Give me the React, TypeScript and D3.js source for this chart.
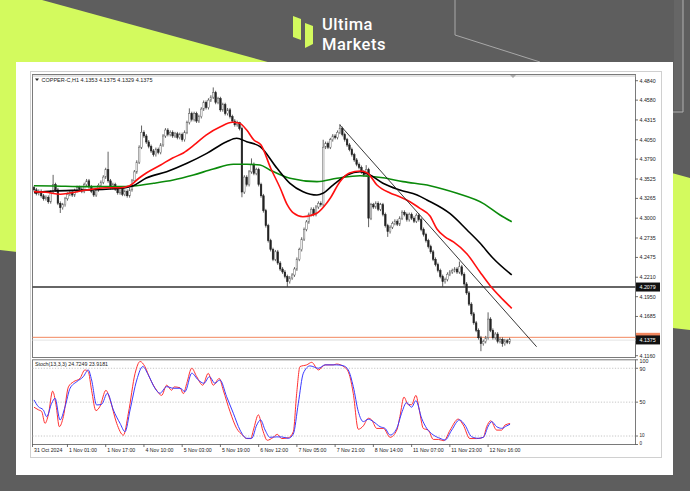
import React from 'react';
import * as d3 from 'd3';

const W = 690, H = 491;

// ---- price data (H1 bars) ----
const closes = [
  4.338,4.333,4.336,4.330,4.326,4.328,4.322,4.335,4.345,4.338,
  4.320,4.314,4.318,4.326,4.332,4.335,4.331,4.337,4.341,4.339,
  4.336,4.345,4.350,4.342,4.336,4.331,4.338,4.344,4.348,4.355,
  4.365,4.350,4.341,4.345,4.339,4.334,4.340,4.332,4.336,4.330,
  4.338,4.350,4.362,4.375,4.395,4.415,4.410,4.402,4.396,4.390,
  4.385,4.392,4.388,4.398,4.410,4.418,4.412,4.415,4.410,4.413,
  4.408,4.412,4.405,4.415,4.428,4.440,4.432,4.440,4.430,4.436,
  4.446,4.455,4.448,4.458,4.462,4.468,4.455,4.460,4.445,4.452,
  4.440,4.445,4.436,4.430,4.425,4.428,4.420,4.335,4.355,4.345,
  4.362,4.372,4.360,4.365,4.345,4.330,4.310,4.290,4.270,4.258,
  4.245,4.255,4.240,4.232,4.228,4.222,4.215,4.220,4.224,4.232,
  4.245,4.258,4.272,4.285,4.295,4.305,4.312,4.305,4.315,4.320,
  4.318,4.395,4.400,4.395,4.405,4.410,4.408,4.415,4.420,4.412,
  4.405,4.398,4.392,4.385,4.378,4.372,4.368,4.362,4.358,4.365,
  4.300,4.318,4.315,4.320,4.312,4.318,4.305,4.290,4.282,4.288,
  4.293,4.296,4.292,4.300,4.308,4.305,4.298,4.305,4.300,4.296,
  4.304,4.298,4.285,4.278,4.270,4.262,4.255,4.245,4.238,4.230,
  4.222,4.215,4.218,4.225,4.228,4.230,4.232,4.228,4.235,4.225,
  4.212,4.200,4.185,4.172,4.160,4.150,4.140,4.132,4.135,4.140,
  4.165,4.150,4.140,4.145,4.135,4.138,4.132,4.136,4.134,4.1375,
];
const firstOpen = 4.341;
const highSpikes: [number, number][] = [
  [8, 4.358], [31, 4.389], [45, 4.424], [65, 4.447], [75, 4.475], [86, 4.429],
  [91, 4.380], [121, 4.405], [128, 4.426], [139, 4.371], [178, 4.242], [190, 4.174],
];
const lowSpikes: [number, number][] = [
  [11, 4.307], [87, 4.328], [106, 4.208], [140, 4.288], [148, 4.275],
  [171, 4.208], [187, 4.122], [196, 4.128],
];

// ---- moving averages [bar, price] ----
const redMA: [number, number][] = [
  [0,4.3355],[5,4.3347],[11,4.3320],[15,4.3337],[22,4.3377],[30,4.3408],[36,4.3408],
  [40,4.3435],[44,4.3538],[47,4.3605],[53,4.3712],[58,4.3806],[62.5,4.3873],[67,4.3980],
  [72,4.4113],[78,4.4224],[83,4.4283],[86,4.4270],[89,4.4180],[92,4.4046],[95,4.3980],
  [99,4.3672],[103,4.3404],[106,4.3177],[108.5,4.3070],[112.5,4.3020],[118.5,4.3070],
  [122.5,4.3203],[124,4.3270],[128,4.3488],[132,4.3605],[136.5,4.3632],[139.5,4.3605],
  [143.5,4.3444],[149,4.3337],[153,4.3288],[157.3,4.3221],[161.5,4.3132],[165.7,4.3030],
  [168.6,4.2856],[172.1,4.2748],[175.5,4.2682],[181.2,4.2521],[186.6,4.2280],[190.8,4.2100],
  [195,4.1950],[199.9,4.1794],
];
const blackMA: [number, number][] = [
  [0,4.3341],[8,4.3364],[22,4.3377],[36,4.3400],[41.5,4.3435],[47,4.3538],[55.5,4.3622],
  [64,4.3735],[72.3,4.3868],[80.6,4.4024],[84.8,4.4069],[89,4.4024],[94.6,4.3957],
  [101.7,4.3668],[107.1,4.3467],[112.6,4.3355],[118.4,4.3310],[120.9,4.3333],[125.1,4.3444],
  [131,4.3578],[136.4,4.3622],[140.6,4.3578],[146,4.3467],[153.1,4.3377],[160.3,4.3310],
  [164.4,4.3244],[174.1,4.3060],[181.2,4.2842],[186.6,4.2668],[192,4.2467],[199.9,4.2240],
];
const greenMA: [number, number][] = [
  [0,4.3435],[8,4.3431],[22,4.3422],[36,4.3422],[41.5,4.3431],[50,4.3467],[58.3,4.3511],
  [66.7,4.3578],[75,4.3658],[83.4,4.3721],[89,4.3721],[94.6,4.3712],[98.7,4.3645],
  [107.1,4.3534],[118.4,4.3489],[126.8,4.3534],[136.4,4.3569],[146,4.3542],[154.4,4.3489],
  [165.7,4.3435],[177,4.3333],[187.9,4.3199],[195,4.3043],[199.9,4.2953],
];
const trendLine: [number, number][] = [[128, 4.4247], [210.3, 4.1280]];
const supportLevel = 4.2079;
const askLevel = 4.1406;
const bidLevel = 4.1375;

// ---- stochastic [bar, value] ----
const stochK: [number, number][] = [
  [0,44],[1.8,41],[3.2,39],[4.6,25],[6,35],[7.8,63],[9.2,47],[10.6,21],[12.3,33],[14.4,68],
  [16.5,74],[19.2,78],[21.3,88],[22.7,86],[24.1,64],[25.9,40],[27.6,45],[30.1,64],[31.8,53],
  [34.6,25],[37.4,11],[39.5,37],[42.3,84],[44.4,98],[46.4,92],[48.5,78],[51.3,64],[53.4,58],
  [55.5,70],[57.6,64],[58.6,68],[61.1,67],[62.5,60],[63.9,72],[66,90],[68.1,80],[70.6,70],
  [72.9,84],[75,70],[77.5,78],[79.2,64],[82,39],[84.8,19],[87.3,11],[89,7],[90.7,7],[91.8,17],
  [93.9,35],[95.7,17],[97.6,5],[99.9,8],[101.8,12],[103.6,7],[106.4,8],[108.5,15],[109.9,60],
  [111.3,92],[114.1,94],[116.2,97],[119,88],[121.8,94],[125.2,94],[126.6,95],[130.1,91],
  [132.2,80],[133.6,60],[135.7,18],[137.8,22],[139.9,31],[141.3,29],[143.4,19],[146.2,19],
  [149,8.5],[151.8,17],[153.1,33],[154.8,56],[156.6,47],[158,47],[159.8,58],[161.2,41],
  [162.9,19],[165,17],[167.1,6],[169.2,6],[171.5,4.5],[174.1,17],[177.5,30],[179.6,23],
  [182.4,7],[185.2,7],[188,8.5],[189.4,21],[191.1,28],[193.6,17],[195.7,17],[197.1,23],[199.2,24.7],
];
const stochD: [number, number][] = [
  [0,52.6],[1.8,44.7],[3.9,40.8],[5.3,32.9],[7.4,48.7],[8.8,54.6],[10.9,29],[13,44.7],[15.1,66.4],
  [17.9,74.2],[20.6,80],[22.7,88],[24.1,76.2],[26.2,46.7],[28.3,47.5],[30.7,60.5],[33.2,40.8],
  [36,25],[38.1,15.1],[40.2,40.8],[43,76.2],[45.5,92],[47.8,82.3],[50.6,66.4],[52.7,60.5],
  [55.5,68.3],[58.3,66.4],[61.1,66.4],[63.2,62.5],[66,84.2],[68.7,76.2],[71.1,72.3],[73.4,80.1],
  [75.7,72.3],[77.8,76.2],[80.6,56.5],[83.4,36.9],[86.2,17.1],[89,7.3],[91.1,7.3],[93.2,23],
  [94.8,29],[96.7,17.1],[98.7,8.5],[101.5,9],[103.6,9],[106.4,7.3],[108.5,12.4],[110.6,48.7],
  [112.7,84.2],[115.5,92.8],[119,90],[121.8,94],[126.7,94],[129.4,93],[131.5,88],[133.6,68.3],
  [135.7,38.8],[137.8,27],[139.9,29.8],[142,27],[144.8,21],[146.9,19],[149,11.2],[151.8,19],
  [153.8,36.9],[155.9,49.4],[158,44],[159.8,51.8],[162.2,30.9],[164.3,19.1],[167.1,11.2],
  [169.9,7.3],[172,5.3],[174.8,17.1],[178,29],[180.3,23],[183.1,9.2],[185.9,7.3],[188,8.5],
  [190.1,21.9],[191.5,27],[193.6,21],[195.7,19.1],[197.8,22],[199.2,23.9],
];

// ---- axis labels ----
const priceTicks = ['4.4840','4.4580','4.4315','4.4050','4.3790','4.3525','4.3265','4.3000',
  '4.2735','4.2475','4.2210','4.1950','4.1685','4.1160'];
const stochTicks = [100, 90, 50, 10, 0];
const stochLevels = [90, 50, 10];
const timeLabels = ['31 Oct 2024','1 Nov 01:00','1 Nov 17:00','4 Nov 10:00','5 Nov 03:00',
  '5 Nov 19:00','6 Nov 12:00','7 Nov 05:00','7 Nov 21:00','8 Nov 14:00','11 Nov 07:00',
  '11 Nov 23:00','12 Nov 16:00'];
const timeIdx = [0, 14, 30, 46, 62, 78, 94, 110, 126, 142, 158, 174, 190];
const headerText = 'COPPER-C,H1  4.1353 4.1375 4.1329 4.1375';
const stochText = 'Stoch(13,3,3) 24.7249 23.9181';
const brandLines = ['Ultima', 'Markets'];

const LIME = '#d3fa5e';
const BG = '#5e5e5e';
const FONT = 'Liberation Sans, Arial, sans-serif';

export default function App() {
  const L = 32.5, R = 635.5, PT = 74.5, PB = 357.5, ST = 359.8, SB = 444.5;
  const x = d3.scaleLinear().domain([0, 199]).range([34, 509.6]);
  const yP = d3.scaleLinear().domain([4.1160, 4.4840]).range([355.7, 80.7]);
  const yS = d3.scaleLinear().domain([0, 100]).range([SB, ST]);

  const maLine = d3.line<[number, number]>().x(d => x(d[0])).y(d => yP(d[1])).curve(d3.curveMonotoneX);
  const stLine = d3.line<[number, number]>().x(d => x(d[0])).y(d => yS(d[1])).curve(d3.curveMonotoneX);

  const hiMap = new Map(highSpikes);
  const loMap = new Map(lowSpikes);
  const bars = closes.map((c, i) => {
    const o = i === 0 ? firstOpen : closes[i - 1];
    const hi = hiMap.has(i) ? (hiMap.get(i) as number) : Math.max(o, c) + 0.0025;
    const lo = loMap.has(i) ? (loMap.get(i) as number) : Math.min(o, c) - 0.0025;
    return { i, o, c, hi, lo };
  });

  // label y offsets so the tightly packed stochastic labels do not collide
  const stochLabelY = (v: number) =>
    v === 100 ? yS(v) + 3.2 : v === 90 ? yS(v) + 2.6 : v === 10 ? yS(v) + 0.6 : v === 0 ? yS(v) + 0.8 : yS(v) + 1.9;

  return (
    <svg width={W} height={H} style={{ position: 'absolute', left: 0, top: 0, fontFamily: FONT }}>
      <rect x={0} y={0} width={W} height={H} fill={BG} />
      {/* lime band */}
      <polygon points={`0,0 42,0 690,178 690,330 0,250`} fill={LIME} />
      {/* decorative thin lines */}
      <polyline points="455,0 455,35 540,62" fill="none" stroke="#a8a8a8" strokeWidth={1} />
      <rect x={674} y={0} width={9} height={110} fill="#666" />
      <polyline points="683,0 683,112 673,112" fill="none" stroke="#b0b0b0" strokeWidth={1} />

      {/* logo */}
      <polygon points="293,16 301,19 301,40 293,37" fill={LIME} />
      <polygon points="305,23 313,26 313,44 305,48" fill={LIME} />
      <text x={322} y={30.2} fill="#fff" fontSize={16.5} fontWeight={500} letterSpacing={0.5} fontFamily="Roboto, sans-serif">{brandLines[0]}</text>
      <text x={322} y={49.6} fill="#fff" fontSize={16.5} fontWeight={500} letterSpacing={0.5} fontFamily="Roboto, sans-serif">{brandLines[1]}</text>

      {/* white panel */}
      <rect x={16} y={62} width={657} height={413} fill="#fff" />
      <rect x={30.5} y={71.5} width={631} height={386} fill="none" stroke="#d0d0d0" />

      {/* price pane */}
      <rect x={L} y={PT} width={R - L} height={PB - PT} fill="#fff" stroke="#7a7a7a" />
      <line x1={L} x2={R} y1={PT + 1.5} y2={PT + 1.5} stroke="#c8c8c8" />
      {/* stoch pane */}
      <rect x={L} y={ST} width={R - L} height={SB - ST} fill="#fff" stroke="#7a7a7a" />

      {/* shift marker */}
      <polygon points="510,75 516,75 513,78" fill="#aaa" />

      {/* support & bid/ask lines */}
      <line x1={L} x2={R} y1={yP(supportLevel)} y2={yP(supportLevel)} stroke="#333" strokeWidth={1.3} />
      <line x1={L} x2={R} y1={yP(askLevel)} y2={yP(askLevel)} stroke="#f2875f" strokeWidth={1} />
      <line x1={L} x2={R} y1={yP(bidLevel) + 0.5} y2={yP(bidLevel) + 0.5} stroke="#e4e4e4" strokeWidth={1} />

      {/* candles */}
      {bars.map(b => {
        const cx = x(b.i);
        const up = b.c >= b.o;
        const top = yP(Math.max(b.o, b.c));
        const bot = yP(Math.min(b.o, b.c));
        return (
          <g key={b.i}>
            <line x1={cx} x2={cx} y1={yP(b.hi)} y2={yP(b.lo)} stroke="#3a3a3a" strokeWidth={0.8} />
            <rect x={cx - 0.8} y={top} width={1.6} height={Math.max(0.8, bot - top)}
              fill={up ? '#fff' : '#222'} stroke={up ? '#666' : '#222'} strokeWidth={0.5} />
          </g>
        );
      })}

      {/* moving averages */}
      <path d={maLine(greenMA) || ''} fill="none" stroke="#0a8a0a" strokeWidth={1.6} />
      <path d={maLine(blackMA) || ''} fill="none" stroke="#000" strokeWidth={1.6} />
      <path d={maLine(redMA) || ''} fill="none" stroke="#ff1010" strokeWidth={1.6} />
      <path d={maLine(trendLine) || ''} fill="none" stroke="#222" strokeWidth={0.9} />

      {/* header */}
      <polygon points="35,78.5 39,78.5 37,81" fill="#222" />
      <text x={41.5} y={81.5} fontSize={5.5} fill="#222">{headerText}</text>

      {/* price axis */}
      {priceTicks.map(t => (
        <g key={t}>
          <line x1={R} x2={R + 2.5} y1={yP(+t)} y2={yP(+t)} stroke="#333" strokeWidth={0.7} />
          <text x={639.5} y={yP(+t) + 1.9} fontSize={5.3} fill="#222">{t}</text>
        </g>
      ))}
      <rect x={636} y={yP(supportLevel) - 4.5} width={24} height={9} fill="#111" />
      <text x={639.5} y={yP(supportLevel) + 1.9} fontSize={5.3} fill="#fff">{supportLevel.toFixed(4)}</text>
      <rect x={636} y={yP(askLevel) - 4.5} width={24} height={6} fill="#f2875f" />
      <rect x={636} y={yP(bidLevel) - 4.2} width={24} height={9} fill="#111" />
      <text x={639.5} y={yP(bidLevel) + 2.2} fontSize={5.3} fill="#fff">{bidLevel.toFixed(4)}</text>

      {/* stochastic */}
      {stochLevels.map(v => (
        <line key={v} x1={L} x2={R} y1={yS(v)} y2={yS(v)} stroke="#b8b8b8" strokeWidth={0.8} strokeDasharray="1.2,1.6" />
      ))}
      <path d={stLine(stochK) || ''} fill="none" stroke="#ff3030" strokeWidth={1} />
      <path d={stLine(stochD) || ''} fill="none" stroke="#3a3aff" strokeWidth={1} />
      <text x={35} y={366} fontSize={5.3} fill="#222">{stochText}</text>
      {stochTicks.map(v => (
        <g key={v}>
          <line x1={R} x2={R + 2.5} y1={yS(v)} y2={yS(v)} stroke="#333" strokeWidth={0.7} />
          <text x={639.5} y={stochLabelY(v)} fontSize={v === 0 || v === 10 ? 4.6 : 5.3} fill="#222">{v}</text>
        </g>
      ))}

      {/* time axis */}
      {timeLabels.map((t, k) => {
        const tx = k === 0 ? L : x(timeIdx[k]);
        return (
          <g key={t}>
            <line x1={tx} x2={tx} y1={SB} y2={SB + 2.5} stroke="#333" strokeWidth={0.7} />
            <text x={tx + 1.5} y={452} fontSize={5.2} fill="#222">{t}</text>
          </g>
        );
      })}
    </svg>
  );
}
